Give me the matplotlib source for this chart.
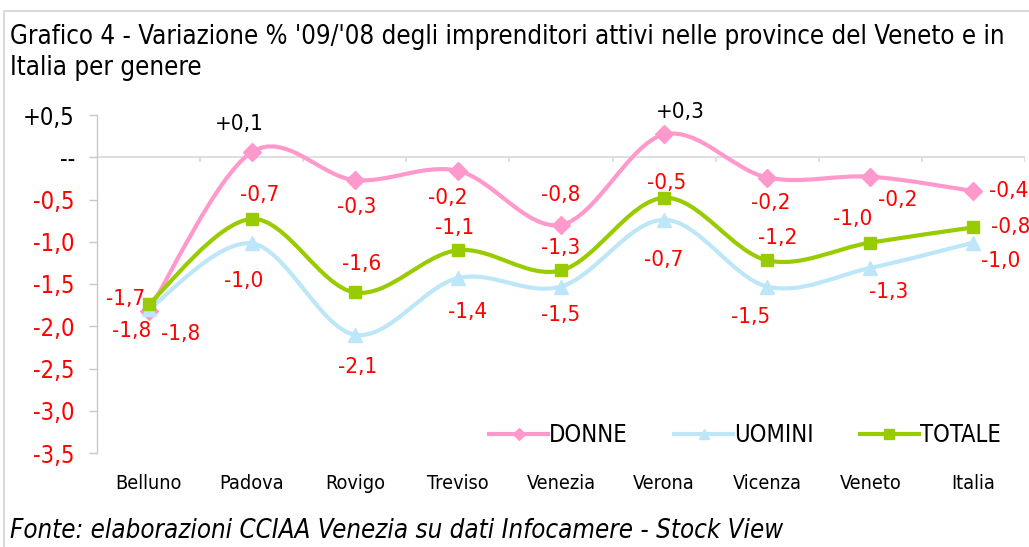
import matplotlib
matplotlib.use("Agg")
import matplotlib.pyplot as plt
from matplotlib.path import Path
from matplotlib.patches import PathPatch
from matplotlib.lines import Line2D
import numpy as np

# data
categories = ["Belluno", "Padova", "Rovigo", "Treviso", "Venezia",
              "Verona", "Vicenza", "Veneto", "Italia"]
donne = [-1.82, 0.06, -0.27, -0.16, -0.80, 0.27, -0.24, -0.23, -0.40]
uomini = [-1.80, -1.02, -2.10, -1.43, -1.53, -0.74, -1.53, -1.31, -1.01]
totale = [-1.74, -0.73, -1.60, -1.10, -1.34, -0.48, -1.22, -1.01, -0.83]
ytick_vals = [0.5, 0.0, -0.5, -1.0, -1.5, -2.0, -2.5, -3.0, -3.5]

# label offsets in pixels (dx, dy), dy positive = up
off_donne = [(-17, -20), (-12, 28), (2, -27), (-10, -27), (0, 30),
             (16, 22), (3, -25), (27, -23), (35, 0)]
off_uomini = [(32, -25), (-8, -38), (3, -32), (10, -34), (0, -28),
              (0, -40), (-17, -30), (18, -24), (27, -18)]
off_totale = [(-23, 5), (8, 24), (7, 28), (-3, 22), (0, 22),
              (3, 15), (10, 22), (-18, 24), (37, 0)]

plt.rcParams['font.family'] = ["DejaVu Sans"]
plt.rcParams['font.stretch'] = 'condensed'


def fmt(v):
    s = "%+.1f" % v
    if s in ("+0.0", "-0.0"):
        return "--"
    return s.replace(".", ",")


def smooth_path(xs, ys):
    # catmull-rom style bezier, like excel smoothed lines
    p = np.column_stack([xs, ys]).astype(float)
    n = len(p)
    verts = [p[0]]
    codes = [Path.MOVETO]
    for i in range(n - 1):
        p0 = p[i - 1] if i > 0 else p[i]
        p3 = p[i + 2] if i + 2 < n else p[i + 1]
        c1 = p[i] + (p[i + 1] - p0) / 6.0
        c2 = p[i + 1] - (p3 - p[i]) / 6.0
        verts += [c1, c2, p[i + 1]]
        codes += [Path.CURVE4] * 3
    return Path(verts, codes)


fig = plt.figure(figsize=(10.29, 5.47), dpi=100)
ax = fig.add_axes([97 / 1029, 1 - 453 / 547, 928 / 1029, 338 / 547])

x = np.arange(1, len(categories) + 1)
series = [
    ("DONNE", donne, "#FF99CC", "D", 9.5, off_donne),
    ("UOMINI", uomini, "#BDE7F8", "^", 10, off_uomini),
    ("TOTALE", totale, "#99CC00", "s", 9, off_totale),
]

handles = []
for name, vals, col, mk, ms, offs in series:
    ax.add_patch(PathPatch(smooth_path(x, vals), fill=False, edgecolor=col,
                           lw=3.0, zorder=3, capstyle='round'))
    ax.plot(x, vals, ls='none', marker=mk, ms=ms, color=col, zorder=4)
    handles.append(Line2D([], [], color=col, lw=3.0, marker=mk, ms=6.5))
    for xi, v, (dx, dy) in zip(x, vals, offs):
        ax.annotate(fmt(v), (xi, v), xytext=(dx * 0.72, dy * 0.72),
                    textcoords='offset points', ha='center', va='center',
                    fontsize=16, color='black' if v > 0 else 'red', zorder=5)

ax.set_xlim(0.5, len(categories) + 0.5)
ax.set_ylim(-3.5, 0.5)

for s in ["top", "right", "bottom"]:
    ax.spines[s].set_visible(False)
ax.spines["left"].set_color("#C8C8C8")
ax.spines["left"].set_linewidth(1.0)

ax.set_yticks(ytick_vals)
ax.set_yticklabels([fmt(v) for v in ytick_vals], fontsize=17)
for lab, v in zip(ax.get_yticklabels(), ytick_vals):
    lab.set_color('black' if v >= 0 else 'red')
ax.tick_params(axis='y', length=6, width=1, color="#C8C8C8", pad=10)

ax.set_xticks(x)
ax.set_xticklabels(categories, fontsize=14.2)
ax.tick_params(axis='x', length=0, pad=15)

# horizontal axis at zero with category boundary ticks
ax.axhline(0, color="#D9D9D9", lw=1.2, zorder=1)
bnd = np.arange(0.5, len(categories) + 1, 1.0)
ax.vlines(bnd, -0.06, 0, color="#D9D9D9", lw=1.2, zorder=1)

ax.legend(handles, [s[0] for s in series], ncol=3, frameon=False,
          loc='center right', bbox_to_anchor=(1001 / 1029, 1 - 435 / 547),
          bbox_transform=fig.transFigure, borderpad=0, borderaxespad=0,
          fontsize=17, handlelength=2.5, handletextpad=0.05,
          columnspacing=1.95)

fig.text(10 / 1029, 1 - 37 / 547,
         "Grafico 4 - Variazione % '09/'08 degli imprenditori attivi nelle province del Veneto e in",
         fontsize=18.5, va='center', ha='left')
fig.text(10 / 1029, 1 - 68 / 547, "Italia per genere",
         fontsize=18.5, va='center', ha='left')
fig.text(10 / 1029, 1 - 531 / 547,
         "Fonte: elaborazioni CCIAA Venezia su dati Infocamere - Stock View",
         fontsize=18.5, style='italic', va='center', ha='left')

# outer frame: top and left edges only
fig.add_artist(Line2D([3.5 / 1029, 3.5 / 1029, 1.0],
                      [0.0, 1 - 11 / 547, 1 - 11 / 547],
                      transform=fig.transFigure, color="#D9D9D9", lw=1.5))

fig.savefig("out.png", dpi=100)
